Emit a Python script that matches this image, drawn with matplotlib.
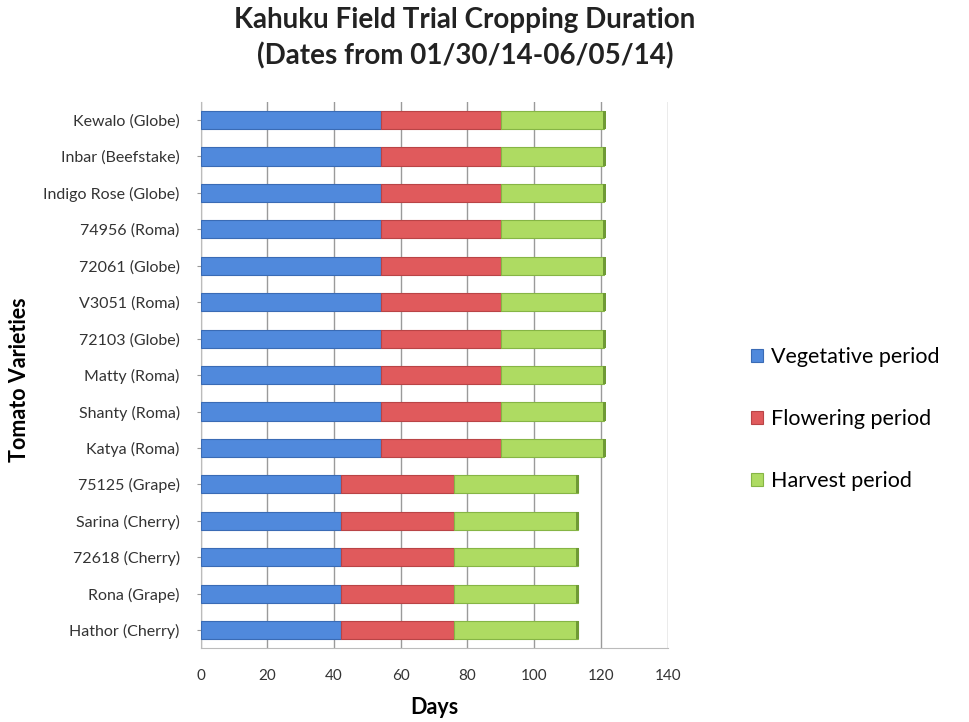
import matplotlib
matplotlib.use("Agg")
import matplotlib.pyplot as plt
import numpy as np

plt.rcParams['font.family'] = ['Lato', 'DejaVu Sans']

# Data (bottom to top, as drawn)
varieties = ["Hathor (Cherry)", "Rona (Grape)", "72618 (Cherry)", "Sarina (Cherry)",
             "75125 (Grape)", "Katya (Roma)", "Shanty (Roma)", "Matty (Roma)",
             "72103 (Globe)", "V3051 (Roma)", "72061 (Globe)", "74956 (Roma)",
             "Indigo Rose (Globe)", "Inbar (Beefstake)", "Kewalo (Globe)"]
vegetative = [42, 42, 42, 42, 42, 54, 54, 54, 54, 54, 54, 54, 54, 54, 54]
flowering = [34, 34, 34, 34, 34, 36, 36, 36, 36, 36, 36, 36, 36, 36, 36]
harvest = [37, 37, 37, 37, 37, 31, 31, 31, 31, 31, 31, 31, 31, 31, 31]
series_names = ["Vegetative period", "Flowering period", "Harvest period"]
colors = ["#5089dc", "#e05a5c", "#aedb62"]
edges = ["#3a6bb5", "#b94446", "#86b545"]

fig = plt.figure(figsize=(9.69, 7.22), dpi=100)
ax = fig.add_axes([0.207, 0.102, 0.482, 0.757])

y = np.arange(len(varieties))
left = np.zeros(len(varieties))
handles = []
for vals, name, c, ec in zip([vegetative, flowering, harvest], series_names, colors, edges):
    b = ax.barh(y, vals, left=left, height=0.5, color=c, edgecolor=ec,
                linewidth=0.8, label=name, zorder=3)
    handles.append(b)
    left = left + np.array(vals)

# darker end caps to hint at the 3D look of the original
ax.barh(y, 0.8, left=left - 0.4, height=0.5, color="#6f9a35", zorder=4)

ax.set_xlim(0, 140)
ax.set_ylim(-0.5, len(varieties) - 0.5)
ax.set_xticks(range(0, 141, 20))
ax.set_yticks(y)
ax.set_yticklabels(varieties, fontsize=11.5, color="#333333")
ax.tick_params(axis='x', labelsize=11, colors="#333333", length=0, pad=15)
ax.tick_params(axis='y', length=3, color="#999999", pad=12)
ax.grid(axis='x', color="#9a9a9a", linewidth=1.0, zorder=0)
for s in ["top", "right"]:
    ax.spines[s].set_visible(False)
ax.spines["left"].set_color("#bbbbbb")
ax.spines["bottom"].set_color("#bbbbbb")

ax.set_xlabel("Days", fontsize=15.5, fontweight="bold", labelpad=10)
fig.text(0.02, 0.474, "Tomato Varieties", rotation=90, fontsize=15.5,
         fontweight="bold", ha="center", va="center")

fig.text(0.48, 0.99, "Kahuku Field Trial Cropping Duration", fontsize=20,
         fontweight="bold", ha="center", va="top", color="#222222")
fig.text(0.48, 0.942, "(Dates from 01/30/14-06/05/14)", fontsize=20,
         fontweight="bold", ha="center", va="top", color="#222222")

fig.legend(handles=handles, labels=series_names, loc="center left",
           bbox_to_anchor=(0.755, 0.42), frameon=False, fontsize=15.5,
           handlelength=0.55, handleheight=0.55, handletextpad=0.4,
           labelspacing=1.95)

plt.savefig("out.png", dpi=100)
